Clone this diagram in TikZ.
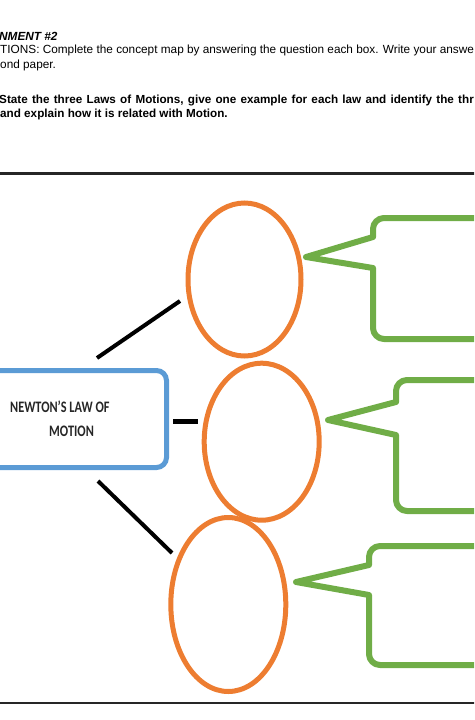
\documentclass[tikz,border=0pt]{standalone}
\usepackage{fontspec}
\usepackage{graphicx}
\setmainfont{Liberation Sans}
\newfontfamily\calfont{Carlito}
\usetikzlibrary{shapes.geometric}
\definecolor{orangeC}{HTML}{ED7D31}
\definecolor{greenC}{HTML}{70AD47}
\definecolor{blueC}{HTML}{5B9BD5}
\definecolor{textC}{HTML}{262626}
\begin{document}
\begin{tikzpicture}[x=1pt,y=-1pt,
  txt/.style={inner sep=0pt, font=\fontsize{11.8}{14}\selectfont, text=black},
  btxt/.style={inner sep=0pt, font=\fontsize{11.7}{14}\selectfont\bfseries, text=black},
  lawtxt/.style={inner sep=0pt, font=\calfont\bfseries\fontsize{16}{18}\selectfont, text=textC},
  oval/.style={ellipse, draw=orangeC, line width=5pt, inner sep=0pt},
  lawbox/.style={rectangle, draw=blueC, line width=5pt, rounded corners=10pt, inner sep=0pt},
  callout/.style={draw=greenC, line width=6pt, line join=round},
  conn/.style={draw=black, line width=4pt},
  rule/.style={draw=black!85, line width=2.5pt}
]
\useasboundingbox (0,0) rectangle (474,720);
\clip (0,0) rectangle (474,720);

% header text
\node[txt, anchor=base west] (hdr) at (-1,40) {\bfseries\itshape NMENT \#2};
\node[txt, anchor=base west] (dir1) at (0,53.3) {TIONS: Complete the concept map by answering the question each box. Write your answe};
\node[txt, anchor=base west] (dir2) at (0,68.3) {ond paper.};
\node[btxt, anchor=base west] (q1) at (-1,103) {\spaceskip=4.25pt State the three Laws of Motions, give one example for each law and identify the thr};
\node[btxt, anchor=base west] (q2) at (0,117.3) {and explain how it is related with Motion.};

% rules
\coordinate (rt1) at (-5,173.5);
\coordinate (rt2) at (480,173.5);
\coordinate (rb1) at (-5,703);
\coordinate (rb2) at (480,703);
\draw[rule] (rt1) -- (rt2);
\draw[rule, line width=2pt] (rb1) -- (rb2);

% main box
\node[lawbox, minimum width=200pt, minimum height=97pt, anchor=east] (law) at (169,419) {};
\node[lawtxt, anchor=base west] (lawA) at (10,412.7) {\scalebox{0.77}[1]{NEWTON’S LAW OF}};
\node[lawtxt, anchor=base west] (lawB) at (49,436) {\scalebox{0.77}[1]{MOTION}};

% ovals
\node[oval, minimum width=113pt, minimum height=153pt] (e1) at (244.5,279.5) {};
\node[oval, minimum width=115pt, minimum height=157pt] (e2) at (261.7,441.7) {};
\node[oval, minimum width=115pt, minimum height=174pt] (e3) at (228.3,604.5) {};

% connectors
\coordinate (c1a) at (97,358);
\coordinate (c1b) at (180,301);
\coordinate (c2a) at (173,421);
\coordinate (c2b) at (198,421);
\coordinate (c3a) at (98,481);
\coordinate (c3b) at (172,553);
\draw[conn] (c1a) -- (c1b);
\draw[conn, line width=5pt] (c2a) -- (c2b);
\draw[conn] (c3a) -- (c3b);

% callouts
\coordinate (p1) at (306,257);
\draw[callout] (373,268) -- (373,328) arc[start angle=180, end angle=270, radius=11pt]
  -- (500,339) -- (500,218) -- (384,218) arc[start angle=90, end angle=180, radius=11pt]
  -- (373,237) -- (p1) -- cycle;
\coordinate (p2) at (328,420);
\draw[callout] (396,435) -- (396,500) arc[start angle=180, end angle=270, radius=11pt]
  -- (500,511) -- (500,380) -- (407,380) arc[start angle=90, end angle=180, radius=11pt]
  -- (396,402) -- (p2) -- cycle;
\coordinate (p3) at (296,582);
\draw[callout] (369,595) -- (369,654) arc[start angle=180, end angle=270, radius=11pt]
  -- (500,665) -- (500,546) -- (380,546) arc[start angle=90, end angle=180, radius=11pt]
  -- (369,565) -- (p3) -- cycle;
\end{tikzpicture}
\end{document}
